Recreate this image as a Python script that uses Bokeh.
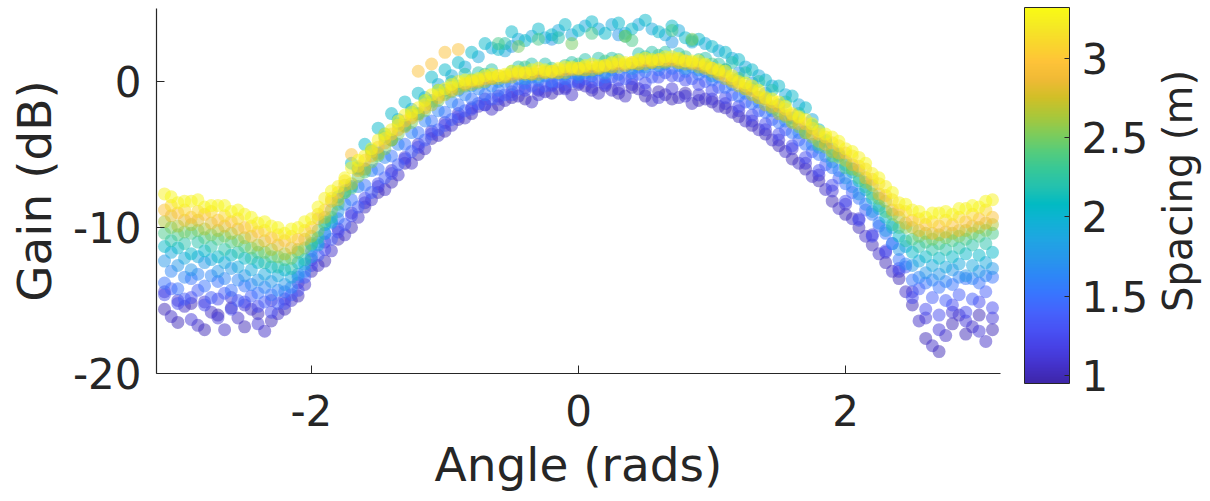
from bokeh.plotting import figure
from bokeh.layouts import row
from bokeh.models import (ColumnDataSource, LinearColorMapper, ColorBar, FixedTicker,
                          NumeralTickFormatter, CustomJSTickFormatter, Range1d)
from bokeh.transform import transform
from bokeh.embed import file_html
from bokeh.resources import INLINE

# ---------------- data ----------------
angle = [-3.1, -3.0, -2.9, -2.8, -2.7, -2.6, -2.5, -2.4, -2.3, -2.2, -2.1,
         -2.0, -1.9, -1.8, -1.7, -1.6, -1.5, -1.4, -1.3, -1.2, -1.1, -1.0,
         -0.9, -0.8, -0.7, -0.6, -0.5, -0.4, -0.3, -0.2, -0.1,
         0.0, 0.1, 0.2, 0.3, 0.4, 0.5, 0.6, 0.7, 0.8, 0.9, 1.0,
         1.1, 1.2, 1.3, 1.4, 1.5, 1.6, 1.7, 1.8, 1.9, 2.0,
         2.1, 2.2, 2.3, 2.4, 2.5, 2.6, 2.7, 2.8, 2.9, 3.0, 3.1]

angle_b = [-3.05, -2.95, -2.85, -2.75, -2.65, -2.55, -2.45, -2.35, -2.25, -2.15, -2.05,
           -1.95, -1.85, -1.75, -1.65, -1.55, -1.45, -1.35, -1.25, -1.15, -1.05, -0.95,
           -0.85, -0.75, -0.65, -0.55, -0.45, -0.35, -0.25, -0.15, -0.05,
           0.05, 0.15, 0.25, 0.35, 0.45, 0.55, 0.65, 0.75, 0.85, 0.95, 1.05,
           1.15, 1.25, 1.35, 1.45, 1.55, 1.65, 1.75, 1.85, 1.95,
           2.05, 2.15, 2.25, 2.35, 2.45, 2.55, 2.65, 2.75, 2.85, 2.95, 3.05]

# spacing levels measured on the "angle" grid
gain_100 = [-15.6, -16.5, -15.2, -17.0, -16.0, -15.5, -16.8, -15.9, -16.4, -15.6, -14.7,
            -13.0, -12.3, -10.8, -10.0, -8.6, -7.6, -6.9, -5.6, -5.0, -3.9, -3.4,
            -2.6, -2.2, -1.6, -1.6, -1.1, -1.2, -0.6, -0.8, -0.4,
            -0.2, -0.6, -0.3, -0.8, -0.4, -1.0, -0.7, -1.2, -0.8, -1.3, -1.4,
            -1.8, -2.4, -3.0, -3.6, -4.4, -5.3, -6.0, -6.8, -8.2, -9.1,
            -10.0, -11.2, -12.4, -13.5, -15.3, -17.6, -18.5, -16.6, -17.3, -16.0, -17.0]
gain_112 = [-14.4, -15.0, -16.3, -15.1, -16.2, -14.8, -15.3, -16.6, -15.0, -14.9, -13.8,
            -12.2, -11.0, -10.1, -9.0, -8.3, -7.2, -6.1, -5.2, -4.3, -3.4, -2.8,
            -2.2, -1.8, -1.2, -1.0, -0.7, -0.4, -0.9, -0.2, -0.5,
            0.0, -0.4, -0.1, -0.5, -0.2, -0.6, -1.1, -0.5, -1.0, -0.9, -1.2,
            -1.5, -2.0, -2.7, -3.3, -4.0, -4.6, -5.6, -6.4, -7.5, -8.4,
            -9.4, -10.5, -11.7, -13.0, -14.4, -16.2, -17.0, -15.8, -16.4, -17.1, -16.2]
gain_125 = [-14.6, -15.2, -14.8, -15.3, -14.9, -15.6, -15.1, -15.4, -15.8, -15.2, -14.3,
            -12.6, -11.5, -10.3, -9.2, -8.0, -7.0, -6.3, -5.3, -4.5, -3.6, -3.0,
            -2.4, -1.9, -1.6, -1.2, -0.9, -0.6, -0.5, -0.3, -0.2,
            -0.1, 0.0, -0.2, 0.1, 0.2, -0.1, 0.3, 0.4, 0.1, -0.2, -0.6,
            -1.1, -1.7, -2.3, -2.9, -3.6, -4.4, -5.2, -6.1, -7.1, -8.2,
            -9.5, -10.6, -11.6, -12.8, -14.8, -15.6, -16.0, -15.3, -15.8, -15.1, -15.5]
gain_150 = [-13.8, -14.2, -13.5, -14.0, -13.7, -14.3, -14.0, -14.5, -14.6, -14.4, -13.4,
            -11.6, -10.4, -9.4, -8.1, -7.1, -6.0, -5.1, -4.3, -3.5, -2.7, -2.1,
            -1.6, -1.2, -0.9, -0.6, -0.2, -0.1, 0.1, 0.0, 0.2,
            0.3, 0.4, 0.3, 0.5, 0.6, 0.7, 0.8, 0.9, 0.7, 0.5, 0.1,
            -0.4, -1.0, -1.5, -2.1, -2.8, -3.5, -4.3, -5.0, -5.9, -7.0,
            -8.0, -9.1, -10.4, -12.2, -13.6, -13.8, -14.1, -13.9, -13.5, -13.8, -13.4]
gain_175 = [-12.3, -12.6, -12.9, -12.4, -13.0, -12.8, -13.3, -13.6, -13.7, -13.9, -13.2,
            -12.0, -10.4, -8.9, -7.2, -6.0, -4.9, -4.0, -3.0, -2.2, -1.3, -0.6,
            -0.6, -0.3, -0.1, 0.0, 2.4, 0.2, 0.3, 2.9, 0.5,
            0.5, 0.7, 0.6, 3.2, 0.9, 1.0, 1.1, 2.7, 0.9, 0.8, 0.4,
            0.8, 0.6, -0.1, -0.8, -1.6, -2.5, -3.4, -4.5, -5.5, -6.6,
            -7.7, -8.9, -10.2, -11.5, -12.6, -13.1, -13.2, -12.9, -13.3, -13.0, -12.8]
gain_205 = [-11.3, -11.4, -11.8, -11.6, -12.0, -11.9, -12.1, -12.4, -12.7, -12.9, -12.4,
            -11.2, -9.8, -7.9, -5.6, -4.3, -3.2, -2.2, -1.4, -0.8, 0.3, 0.8,
            1.3, 2.0, 2.6, 2.2, 3.4, 2.8, 3.6, 3.2, 3.9,
            3.5, 4.1, 3.3, 4.0, 3.6, 4.2, 3.4, 3.8, 3.0, 2.9, 2.4,
            2.0, 1.5, 0.8, 0.1, -0.3, -1.0, -1.8, -3.3, -4.6, -5.7,
            -6.8, -8.0, -9.3, -10.6, -11.7, -12.0, -12.1, -12.0, -11.8, -11.9, -11.7]
gain_235 = [-10.4, -10.5, -10.4, -10.7, -10.8, -11.0, -11.3, -11.7, -12.0, -12.2, -11.7,
            -11.1, -9.6, -8.4, -7.3, -6.2, -5.1, -4.0, -3.0, -2.2, -1.4, -0.8,
            -0.3, 0.1, 0.5, 2.6, 0.7, 1.0, 2.9, 0.9, 1.1,
            1.2, 3.3, 1.4, 1.5, 2.8, 1.7, 1.8, 3.5, 1.7, 1.5, 1.2,
            0.8, 0.2, -0.5, -1.2, -2.0, -2.7, -3.5, -4.3, -5.1, -5.9,
            -6.6, -7.7, -8.9, -10.0, -10.8, -11.0, -11.1, -10.9, -10.8, -10.6, -10.4]
gain_265 = [-9.6, -9.9, -9.8, -10.1, -10.2, -10.4, -10.7, -11.2, -11.5, -11.8, -11.5,
            -10.6, -9.3, -8.1, -7.0, -6.0, -5.0, -4.0, -3.1, -2.3, -1.6, -0.9,
            -0.5, -0.2, 0.0, 0.2, 0.3, 0.5, 0.5, 0.6, 0.6,
            0.8, 0.8, 1.0, 1.0, 1.2, 1.2, 1.3, 1.4, 1.2, 1.0, 0.7,
            0.2, -0.3, -0.9, -1.6, -2.2, -2.8, -3.5, -4.1, -4.8, -5.4,
            -6.1, -7.1, -8.2, -9.3, -10.0, -10.4, -10.5, -10.4, -10.2, -10.0, -9.8]
gain_295 = [-8.8, -9.0, -9.3, -9.1, -9.5, -9.6, -10.0, -10.3, -10.7, -10.9, -10.8,
            -10.0, -8.8, -7.6, -5.0, -5.4, -4.5, -3.6, -2.7, 0.7, 1.2, 2.0,
            2.2, 0.0, 0.2, 0.4, 0.5, 0.6, 0.7, 0.7, 0.8,
            0.9, 1.0, 1.1, 1.2, 1.3, 1.4, 1.5, 1.5, 1.4, 1.2, 0.9,
            0.4, -0.1, -0.6, -1.2, -1.7, -2.3, -2.9, -3.6, -4.2, -4.9,
            -5.8, -6.7, -7.8, -8.8, -9.5, -9.8, -9.9, -9.8, -9.6, -9.4, -9.3]
gain_325 = [-7.7, -8.3, -8.2, -8.6, -8.5, -8.9, -9.1, -9.7, -9.9, -10.4, -10.0,
            -9.4, -8.0, -7.2, -5.9, -5.1, -4.0, -3.3, -2.3, -1.8, -0.9, -0.5,
            0.0, 0.1, 0.4, 0.4, 0.7, 0.6, 0.9, 0.7, 1.0,
            0.9, 1.2, 1.1, 1.4, 1.3, 1.6, 1.5, 1.7, 1.4, 1.4, 0.9,
            0.7, 0.0, -0.3, -1.1, -1.4, -2.2, -2.6, -3.4, -3.8, -4.6,
            -5.2, -6.3, -7.2, -8.3, -8.8, -9.3, -9.0, -9.1, -8.7, -8.6, -8.1]

# spacing levels measured on the "angle_b" grid
gain_106 = [-16.1, -15.4, -16.7, -15.8, -17.0, -16.2, -15.6, -17.1, -15.9, -15.0, -13.9,
            -12.6, -11.6, -10.5, -9.3, -8.1, -7.4, -6.4, -5.6, -4.6, -3.7, -3.0,
            -2.5, -1.7, -1.9, -1.3, -1.0, -1.4, -0.7, -0.5, -0.9,
            -0.3, -0.8, -0.6, -1.0, -0.5, -1.3, -0.9, -1.1, -1.5, -1.2, -1.7,
            -2.1, -2.7, -3.3, -4.0, -4.8, -5.6, -6.5, -7.4, -8.7, -9.4,
            -10.6, -11.8, -13.0, -14.4, -16.4, -18.1, -17.4, -16.0, -16.8, -17.8]
gain_137 = [-14.2, -14.9, -14.3, -14.8, -14.5, -15.0, -14.7, -15.1, -15.2, -14.6, -13.4,
            -11.9, -10.8, -9.8, -8.6, -7.6, -6.6, -5.7, -4.8, -4.0, -3.3, -2.6,
            -2.0, -1.5, -1.2, -0.9, -0.5, -0.3, -0.3, 0.0, 0.0,
            0.2, 0.1, 0.3, 0.2, 0.5, 0.3, 0.6, 0.4, 0.2, 0.0, -0.4,
            -0.9, -1.4, -2.0, -2.6, -3.3, -4.0, -4.8, -5.7, -6.6, -7.6,
            -8.8, -9.9, -11.1, -12.7, -14.2, -14.8, -15.0, -14.6, -14.9, -14.4]
gain_162 = [-13.0, -13.4, -13.2, -13.3, -13.5, -13.6, -13.9, -14.1, -14.3, -14.1, -13.0,
            -11.0, -9.7, -8.4, -7.2, -6.1, -5.2, -4.3, -3.5, -2.7, -2.0, -1.4,
            -0.9, -0.5, -0.3, 0.0, 0.2, 0.3, 0.4, 0.5, 0.6,
            0.6, 0.8, 0.8, 1.0, 1.0, 1.2, 1.2, 1.1, 1.0, 0.7, 0.3,
            -0.2, -0.8, -1.4, -2.0, -2.7, -3.5, -4.3, -5.1, -6.1, -7.2,
            -8.4, -9.7, -11.1, -12.5, -13.4, -13.6, -13.7, -13.4, -13.5, -13.3]
gain_190 = [-11.7, -12.1, -12.0, -12.2, -12.4, -12.7, -12.9, -13.2, -13.3, -13.4, -12.5,
            -11.2, -9.6, -7.5, -5.9, -4.7, -3.6, -2.6, -1.9, -1.1, -0.2, 0.4,
            1.0, 1.7, 2.3, 2.1, 2.9, 3.1, 3.0, 3.5, 3.2,
            3.8, 3.6, 3.9, 3.3, 3.9, 3.6, 3.2, 3.5, 2.7, 2.6, 2.1,
            1.6, 1.0, 0.4, -0.3, -0.9, -1.6, -2.6, -4.0, -5.1, -6.2,
            -7.4, -8.7, -10.0, -11.3, -12.3, -12.6, -12.7, -12.5, -12.6, -12.4]
gain_220 = [-10.9, -11.1, -11.0, -11.3, -11.5, -11.7, -12.1, -12.4, -12.7, -12.8, -12.2,
            -10.7, -9.3, -7.6, -6.0, -4.8, -3.8, -2.9, -2.1, -1.3, -0.6, 0.0,
            0.5, 0.6, 0.8, 2.6, 1.0, 1.2, 1.2, 3.0, 1.3,
            1.5, 1.6, 1.6, 3.1, 1.9, 2.0, 2.0, 1.9, 2.8, 1.6, 1.2,
            1.3, 0.6, 0.0, -0.6, -1.4, -2.2, -3.0, -4.1, -5.0, -6.0,
            -7.2, -8.5, -9.8, -10.9, -11.3, -11.5, -11.5, -11.4, -11.2, -11.1]
gain_250 = [-10.0, -10.3, -10.2, -10.5, -10.6, -10.9, -11.4, -11.7, -12.0, -12.1, -11.4,
            -10.2, -8.8, -7.6, -6.5, -5.5, -4.6, -3.6, -2.8, -2.0, -1.3, -0.7,
            -0.3, -0.1, 0.2, 0.3, 2.4, 0.5, 0.6, 0.6, 2.6,
            0.8, 0.9, 1.0, 3.1, 1.2, 1.3, 1.3, 1.3, 2.9, 1.0, 0.6,
            0.1, -0.5, -1.1, -1.8, -2.4, -3.1, -3.8, -4.5, -5.2, -6.0,
            -6.9, -8.0, -9.1, -10.0, -10.6, -10.8, -10.7, -10.6, -10.4, -10.2]
gain_280 = [-9.2, -9.5, -9.5, -9.7, -9.9, -10.1, -10.6, -10.9, -11.2, -11.4, -10.8,
            -9.4, -8.2, -7.1, -6.1, -5.1, -4.2, -3.3, -2.5, -1.8, -1.1, -0.6,
            -0.2, 0.0, 0.2, 0.3, 0.5, 0.5, 0.6, 0.6, 0.8,
            0.8, 0.9, 1.0, 1.1, 1.2, 1.3, 1.4, 1.3, 1.2, 0.9, 0.5,
            0.0, -0.5, -1.1, -1.7, -2.3, -2.9, -3.6, -4.3, -4.9, -5.7,
            -6.6, -7.7, -8.8, -9.7, -10.2, -10.4, -10.3, -10.2, -9.9, -9.7]
gain_310 = [-8.5, -8.8, -8.9, -8.9, -9.2, -9.4, -9.9, -10.2, -10.5, -10.6, -10.2,
            -9.1, -8.0, -6.8, -5.8, -4.8, -3.9, -3.0, -2.3, -1.6, -0.9, -0.4,
            -0.1, 0.1, 0.3, 0.4, 0.6, 0.6, 0.7, 0.8, 0.9,
            1.0, 1.0, 1.2, 1.2, 1.4, 1.4, 1.5, 1.5, 1.3, 1.1, 0.7,
            0.2, -0.3, -0.8, -1.4, -1.9, -2.5, -3.2, -3.8, -4.4, -5.1,
            -6.0, -7.0, -8.1, -8.9, -9.4, -9.6, -9.5, -9.3, -9.1, -8.8]
gain_330 = [-7.9, -8.2, -8.1, -8.5, -8.5, -8.8, -9.3, -9.6, -10.0, -10.1, -9.6,
            -8.6, -7.5, -6.6, -5.4, -4.6, -3.6, -2.7, -2.1, -1.3, -0.6, -0.2,
            0.1, 0.2, 0.5, 0.5, 0.7, 0.8, 0.8, 0.9, 1.0,
            1.1, 1.1, 1.3, 1.3, 1.5, 1.5, 1.7, 1.6, 1.4, 1.2, 0.8,
            0.4, -0.1, -0.6, -1.2, -1.7, -2.4, -2.9, -3.6, -4.1, -4.8,
            -5.6, -6.6, -7.6, -8.4, -8.9, -9.0, -8.9, -8.7, -8.5, -8.2]

series = [  # (spacing in m, angle grid, gains)
    (1.00, angle, gain_100), (1.06, angle_b, gain_106), (1.12, angle, gain_112),
    (1.25, angle, gain_125), (1.37, angle_b, gain_137), (1.50, angle, gain_150),
    (1.62, angle_b, gain_162), (1.75, angle, gain_175), (1.90, angle_b, gain_190),
    (2.05, angle, gain_205), (2.20, angle_b, gain_220), (2.35, angle, gain_235),
    (2.50, angle_b, gain_250), (2.65, angle, gain_265), (2.80, angle_b, gain_280),
    (2.95, angle, gain_295), (3.10, angle_b, gain_310), (3.25, angle, gain_325),
    (3.30, angle_b, gain_330),
]

x_ticks = [-2, 0, 2]
y_ticks = [-20, -10, 0]
cbar_ticks = [1, 1.5, 2, 2.5, 3]

# ---------------- parula-like palette (style) ----------------
parula_anchors = [
    (0.2422, 0.1504, 0.6603), (0.2647, 0.1978, 0.7952), (0.2783, 0.2559, 0.8991),
    (0.2810, 0.3228, 0.9579), (0.2699, 0.3892, 0.9906), (0.2206, 0.4603, 0.9973),
    (0.1786, 0.5289, 0.9682), (0.1540, 0.5902, 0.9218), (0.1248, 0.6459, 0.8883),
    (0.0689, 0.6948, 0.8394), (0.0067, 0.7312, 0.7660), (0.1408, 0.7584, 0.6842),
    (0.2161, 0.7843, 0.5923), (0.3406, 0.8008, 0.4789), (0.5044, 0.7993, 0.3480),
    (0.6720, 0.7793, 0.2227), (0.8203, 0.7498, 0.1535), (0.9393, 0.7288, 0.2100),
    (0.9970, 0.7659, 0.2199), (0.9786, 0.8386, 0.1766), (0.9597, 0.9135, 0.1423),
    (0.9769, 0.9839, 0.0805)]


def make_palette(anchors, n=256):
    pal = []
    m = len(anchors) - 1
    for k in range(n):
        t = k / (n - 1) * m
        i = min(int(t), m - 1)
        f = t - i
        c = [anchors[i][j] + (anchors[i + 1][j] - anchors[i][j]) * f for j in range(3)]
        pal.append("#%02x%02x%02x" % tuple(int(round(v * 255)) for v in c))
    return pal


palette = make_palette(parula_anchors)

# ---------------- build source ----------------
xs, ys, cs = [], [], []
for lvl, grid, gains in series:
    for a, g in zip(grid, gains):
        xs.append(a)
        ys.append(g)
        cs.append(lvl)
src = ColumnDataSource(data=dict(angle=xs, gain=ys, spacing=cs))

mapper = LinearColorMapper(palette=palette, low=0.95, high=3.32)

TXT = "#262626"
FONT = "DejaVu Sans"

p = figure(width=1151, height=501, x_range=Range1d(-3.16, 3.16), y_range=Range1d(-20, 5),
           output_backend="svg", toolbar_location=None,
           min_border_left=156, min_border_right=151, min_border_top=8, min_border_bottom=128)
p.outline_line_color = None
p.grid.visible = False
p.background_fill_color = "white"
p.border_fill_color = "white"

p.scatter("angle", "gain", source=src, size=13, line_color=None,
          fill_color=transform("spacing", mapper), fill_alpha=0.5)

p.xaxis.ticker = FixedTicker(ticks=x_ticks)
p.yaxis.ticker = FixedTicker(ticks=y_ticks)
p.xaxis.formatter = CustomJSTickFormatter(code="return String(tick);")
p.yaxis.formatter = CustomJSTickFormatter(code="return String(tick);")
p.xaxis.axis_label = "Angle (rads)"
p.yaxis.axis_label = "Gain (dB)"
for ax in (p.xaxis[0], p.yaxis[0]):
    ax.axis_line_color = TXT
    ax.axis_line_width = 1.2
    ax.major_tick_line_color = TXT
    ax.major_tick_in = 8
    ax.major_tick_out = 0
    ax.minor_tick_line_color = None
    ax.major_label_text_font = FONT
    ax.major_label_text_font_size = "42px"
    ax.major_label_text_color = TXT
    ax.axis_label_text_font = FONT
    ax.axis_label_text_font_size = "47px"
    ax.axis_label_text_font_style = "normal"
    ax.axis_label_text_color = TXT
p.xaxis.major_label_standoff = 21
p.xaxis.axis_label_standoff = 8
p.yaxis.major_label_standoff = 15
p.yaxis.axis_label_standoff = 8

cb = ColorBar(color_mapper=mapper, ticker=FixedTicker(ticks=cbar_ticks),
              formatter=NumeralTickFormatter(format="0.[0]"),
              width=45, height=376, location=(24, -10), orientation="vertical",
              padding=0, margin=0, bar_line_color=TXT, bar_line_width=1,
              major_tick_in=5, major_tick_out=0, major_tick_line_color=TXT,
              minor_tick_line_color=None,
              major_label_text_font=FONT, major_label_text_font_size="42px",
              major_label_text_color=TXT, label_standoff=12,
              background_fill_alpha=0, border_line_color=None)
p.add_layout(cb, "right")

# narrow companion figure that only carries the colour-bar title (reads bottom-to-top)
q = figure(width=59, height=501, x_range=Range1d(0, 1), y_range=Range1d(0, 1),
           output_backend="svg", toolbar_location=None, x_axis_location=None,
           min_border_left=0, min_border_right=0, min_border_top=8, min_border_bottom=115)
q.outline_line_color = None
q.grid.visible = False
q.background_fill_color = "white"
q.border_fill_color = "white"
q.yaxis.ticker = FixedTicker(ticks=[])
q.yaxis.axis_line_color = None
q.yaxis.major_tick_line_color = None
q.yaxis.minor_tick_line_color = None
q.yaxis.major_tick_out = 0
q.yaxis.major_label_standoff = 0
q.yaxis.axis_label = "Spacing (m)"
q.yaxis.axis_label_standoff = 0
q.yaxis.axis_label_text_font = FONT
q.yaxis.axis_label_text_font_size = "40px"
q.yaxis.axis_label_text_font_style = "normal"
q.yaxis.axis_label_text_color = TXT

layout = row(p, q)
open("out.html", "w").write(file_html(layout, INLINE))
